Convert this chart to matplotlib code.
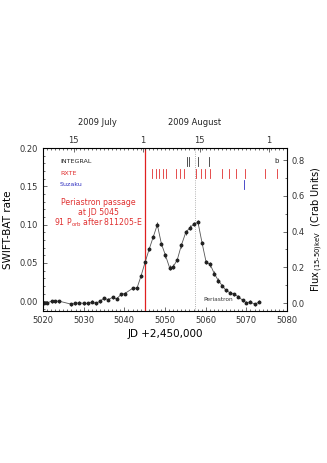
import matplotlib
matplotlib.use("Agg")
import matplotlib.pyplot as plt
from matplotlib.ticker import MultipleLocator, FixedLocator

# SWIFT-BAT light curve (JD - 2450000)
days = [5020.2, 5021.1, 5022.1, 5023.0, 5024.0, 5027.0, 5027.9, 5028.9, 5030.0,
        5031.1, 5032.1, 5033.0, 5034.0, 5035.0, 5036.0, 5037.1, 5038.1, 5039.2,
        5040.1, 5042.1, 5043.1, 5044.1, 5045.1, 5046.1, 5047.1, 5048.1, 5049.1,
        5050.1, 5051.1, 5052.0, 5053.0, 5054.0, 5055.1, 5056.1, 5057.1, 5058.1,
        5059.1, 5060.1, 5061.1, 5062.1, 5063.1, 5064.1, 5065.0, 5066.0, 5067.0,
        5068.0, 5069.1, 5070.0, 5070.9, 5072.1, 5073.1]
rate = [-0.002, -0.002, 0.000, 0.000, 0.000, -0.004, -0.003, -0.002, -0.003,
        -0.003, -0.001, -0.003, 0.000, 0.004, 0.002, 0.005, 0.003, 0.009,
        0.010, 0.017, 0.017, 0.033, 0.051, 0.068, 0.084, 0.100, 0.075,
        0.060, 0.044, 0.045, 0.054, 0.073, 0.090, 0.096, 0.101, 0.103,
        0.076, 0.051, 0.048, 0.036, 0.027, 0.020, 0.014, 0.011, 0.009,
        0.006, 0.001, -0.002, -0.001, -0.004, -0.001]
rate_err = [0.002] * 21 + [0.003] * 20 + [0.002] * 10

# pointed observations
integral_obs = [5055.3, 5056.0, 5058.2, 5060.9]
rxte_obs = [5046.9, 5047.8, 5048.6, 5049.5, 5050.3, 5052.7, 5053.7, 5054.7,
            5057.5, 5058.9, 5059.9, 5061.0, 5064.0, 5065.7, 5067.4, 5069.6,
            5074.6, 5077.6]
suzaku_obs = [5069.4]

periastron = 5045
periastron_obs = 5057.4

# top axis: calendar dates
date_ticks = [5027.5, 5044.5, 5058.5, 5075.5]
date_labels = ["15", "1", "15", "1"]
months = ["2009 July", "2009 August"]
month_pos = [5033.5, 5057.3]

fig = plt.figure(figsize=(3.27, 4.63), dpi=100)
ax = fig.add_axes([0.1315, 0.328, 0.7465, 0.352])

ax.errorbar(days, rate, yerr=rate_err, fmt='o-', color='#555555', ms=1.8,
            mfc='#222222', mec='#222222', lw=0.6, elinewidth=0.7, capsize=0)

ax.axvline(periastron, color='#e02020', lw=0.9)
ax.axvline(periastron_obs, color='#999999', lw=0.6, ls=':')

for d in integral_obs:
    ax.plot([d, d], [0.177, 0.189], color='#333333', lw=0.6)
for d in rxte_obs:
    ax.plot([d, d], [0.161, 0.173], color='#e03030', lw=0.6)
for d in suzaku_obs:
    ax.plot([d, d], [0.146, 0.158], color='#3030c0', lw=0.6)

ax.text(5024.2, 0.183, "INTEGRAL", fontsize=4.6, color='#222222', va='center')
ax.text(5024.2, 0.167, "RXTE", fontsize=4.6, color='#e03030', va='center')
ax.text(5024.2, 0.152, "Suzaku", fontsize=4.6, color='#3030c0', va='center')
ax.text(5077.5, 0.183, "b", fontsize=5, color='#222222', va='center', ha='center')

ax.text(5033.6, 0.129, "Periastron passage", fontsize=5.6, color='#e03030',
        ha='center', va='center')
ax.text(5033.6, 0.116, "at JD 5045", fontsize=5.6, color='#e03030',
        ha='center', va='center')
ax.text(5033.6, 0.103, r"91 P$_{\rm orb}$ after 811205-E", fontsize=5.6,
        color='#e03030', ha='center', va='center')
ax.text(5063, 0.002, "Periastron", fontsize=4.2, color='#333333',
        ha='center', va='center')

ax.set_xlim(5020, 5080)
ax.set_ylim(-0.013, 0.20)
ax.xaxis.set_major_locator(MultipleLocator(10))
ax.xaxis.set_minor_locator(MultipleLocator(1))
ax.yaxis.set_major_locator(MultipleLocator(0.05))
ax.yaxis.set_minor_locator(MultipleLocator(0.01))
ax.yaxis.set_major_formatter(plt.FormatStrFormatter('%.2f'))
ax.tick_params(which='both', direction='in', labelsize=6, colors='#333333',
               width=0.5)
ax.tick_params(which='major', length=3)
ax.tick_params(which='minor', length=1.5)
ax.set_xlabel("JD +2,450,000", fontsize=7.5, labelpad=3)
ax.set_ylabel("SWIFT-BAT rate", fontsize=7.5, labelpad=5)
for s in ax.spines.values():
    s.set_linewidth(0.6)
    s.set_color('#555555')

# right axis in Crab units
ax2 = ax.twinx()
ax2.set_ylim(-0.045, 0.867)
ax2.yaxis.set_major_locator(MultipleLocator(0.2))
ax2.yaxis.set_minor_locator(MultipleLocator(0.1))
ax2.yaxis.set_major_formatter(plt.FormatStrFormatter('%.1f'))
ax2.tick_params(which='both', direction='in', labelsize=6, colors='#333333',
                width=0.5)
ax2.tick_params(which='major', length=3)
ax2.tick_params(which='minor', length=1.5)
ax2.set_ylabel(r"Flux$_{\,(15\text{-}50)\rm keV}$  (Crab Units)", fontsize=7,
               labelpad=3)
for s in ax2.spines.values():
    s.set_linewidth(0.6)
    s.set_color('#555555')

# top axis with dates
ax3 = ax.twiny()
ax3.set_xlim(ax.get_xlim())
ax3.xaxis.set_major_locator(FixedLocator(date_ticks))
ax3.set_xticklabels(date_labels)
ax3.xaxis.set_minor_locator(MultipleLocator(1))
ax3.tick_params(which='both', direction='in', labelsize=6, colors='#333333',
                width=0.5, pad=2)
ax3.tick_params(which='major', length=3)
ax3.tick_params(which='minor', length=1.5)
for m, p in zip(months, month_pos):
    ax3.text(p, 1.155, m, transform=ax3.get_xaxis_transform(), fontsize=6,
             ha='center', va='center', color='#222222')

fig.savefig("out.png", dpi=100)
